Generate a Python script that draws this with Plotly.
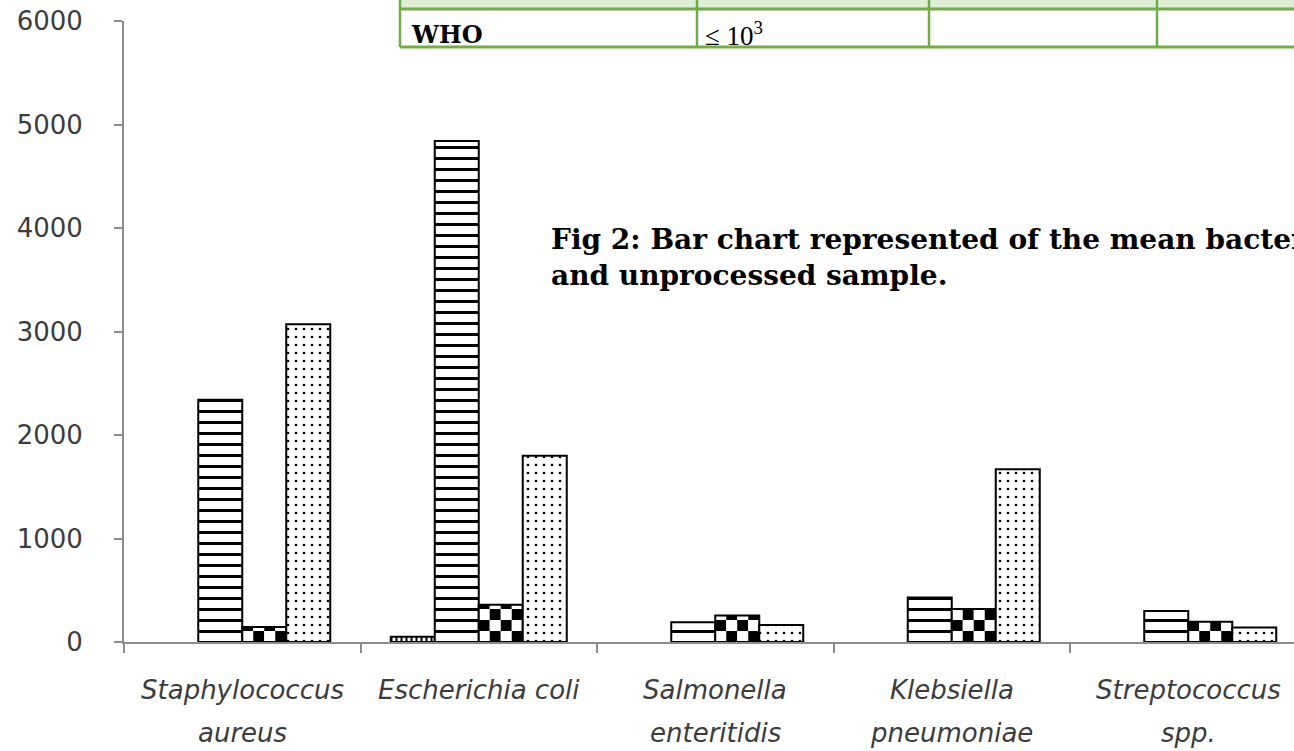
import math
import plotly.graph_objects as go

# ---- data -------------------------------------------------------------
genus = ["Staphylococcus", "Escherichia coli", "Salmonella", "Klebsiella", "Streptococcus"]
epithet = ["aureus", "", "enteritidis", "pneumoniae", "spp."]
y_ticks = [0, 1000, 2000, 3000, 4000, 5000, 6000]

series_1 = [0, 50, 0, 0, 0]
series_2 = [2340, 4840, 190, 430, 300]
series_3 = [145, 360, 255, 320, 195]
series_4 = [3070, 1800, 165, 1670, 140]

# ---- geometry ---------------------------------------------------------
FIG_W, FIG_H = 1294, 751
M_L, M_R, M_T, M_B = 124, 0, 21, 109
PLOT_W = FIG_W - M_L - M_R
PLOT_H = FIG_H - M_T - M_B
CAT_PX = 236.5                      # pixels per category slot
Y_MAX = 6000
X_RANGE = [-0.5, -0.5 + PLOT_W / CAT_PX]
BAR_W = 44 / CAT_PX
OFFSETS = [-2 * BAR_W, -BAR_W, 0.0, BAR_W]
CHECK_COLS = 4                      # checker squares across one bar
CHECK_PX = 11                       # checker square height in pixels
CHECK_H = CHECK_PX * Y_MAX / PLOT_H


def px(x):
    return (x - M_L) / PLOT_W


def py(y):
    return (FIG_H - M_B - y) / PLOT_H


def outline(values):
    # no outline on empty bars
    return dict(color="black", width=[2 if v > 0 else 0 for v in values])


x = list(range(len(genus)))

fig = go.Figure()

# series 1: thin vertical hatch
fig.add_trace(go.Bar(
    x=x, y=series_1, width=BAR_W, offset=OFFSETS[0], name="Series 1",
    marker=dict(color="white", line=outline(series_1),
                pattern=dict(shape="|", size=5, solidity=0.4, fillmode="replace",
                             fgcolor="black", bgcolor="white", fgopacity=1)),
))

# series 2: horizontal stripes
fig.add_trace(go.Bar(
    x=x, y=series_2, width=BAR_W, offset=OFFSETS[1], name="Series 2",
    marker=dict(color="white", line=outline(series_2),
                pattern=dict(shape="-", size=11, solidity=0.27, fillmode="replace",
                             fgcolor="black", bgcolor="white", fgopacity=1)),
))

# series 3: checkerboard, one cell column / row band at a time
n_rows = math.ceil(max(series_3) / CHECK_H)
cell_w = BAR_W / CHECK_COLS
for k in range(n_rows):
    seg = [min(max(v - k * CHECK_H, 0), CHECK_H) for v in series_3]
    for c in range(CHECK_COLS):
        fig.add_trace(go.Bar(
            x=x, y=seg, base=[k * CHECK_H] * len(x), width=cell_w,
            offset=OFFSETS[2] + c * cell_w, name="Series 3", showlegend=False,
            marker=dict(color="black" if (k + c) % 2 else "white", line=dict(width=0)),
        ))
fig.add_trace(go.Bar(
    x=x, y=series_3, width=BAR_W, offset=OFFSETS[2], name="Series 3",
    marker=dict(color="rgba(0,0,0,0)", line=outline(series_3)),
))

# series 4: dotted fill
fig.add_trace(go.Bar(
    x=x, y=series_4, width=BAR_W, offset=OFFSETS[3], name="Series 4",
    marker=dict(color="white", line=outline(series_4),
                pattern=dict(shape=".", size=8, solidity=0.09, fillmode="replace",
                             fgcolor="black", bgcolor="white", fgopacity=1)),
))

AXIS_GREY = "#8c8c8c"
TEXT_GREY = "#3c3c3c"
LABEL_FONT = dict(family="DejaVu Sans", size=26, color=TEXT_GREY)
CAT_FONT = dict(family="DejaVu Sans", size=26, style="italic", color=TEXT_GREY)

fig.update_layout(
    width=FIG_W, height=FIG_H,
    margin=dict(l=M_L, r=M_R, t=M_T, b=M_B, pad=0),
    paper_bgcolor="white", plot_bgcolor="white",
    barmode="overlay", showlegend=False,
    xaxis=dict(range=X_RANGE, tickvals=[i - 0.5 for i in range(len(genus) + 1)],
               showticklabels=False, ticks="outside", ticklen=9, tickwidth=2,
               tickcolor=AXIS_GREY, showline=True, linecolor=AXIS_GREY, linewidth=2,
               showgrid=False, zeroline=False),
    yaxis=dict(range=[0, Y_MAX], tickvals=y_ticks, ticks="outside", ticklen=8,
               tickwidth=2, tickcolor=AXIS_GREY, showline=True, linecolor=AXIS_GREY,
               linewidth=2, showgrid=False, zeroline=False, tickfont=LABEL_FONT,
               ticklabelstandoff=26),
)

# category labels (two lines, italic)
for i, (g, e) in enumerate(zip(genus, epithet)):
    fig.add_annotation(x=i, y=0, xref="x", yref="paper", text=g, showarrow=False,
                       yanchor="middle", yshift=-48, font=CAT_FONT)
    if e:
        fig.add_annotation(x=i, y=0, xref="x", yref="paper", text=e, showarrow=False,
                           yanchor="middle", yshift=-91, font=CAT_FONT)

# table fragment at the top
GREEN = "#70ad47"
fig.add_shape(type="rect", xref="paper", yref="paper", x0=px(400), x1=px(1310),
              y0=py(9), y1=py(-5), fillcolor="#dfeed6", line=dict(width=0), layer="above")
for yy in (9, 47):
    fig.add_shape(type="line", xref="paper", yref="paper", x0=px(400), x1=px(1310),
                  y0=py(yy), y1=py(yy), line=dict(color=GREEN, width=3), layer="above")
for xx in (400, 697, 929, 1157):
    fig.add_shape(type="line", xref="paper", yref="paper", x0=px(xx), x1=px(xx),
                  y0=py(-5), y1=py(47), line=dict(color=GREEN, width=2.5), layer="above")
fig.add_annotation(xref="paper", yref="paper", x=px(409), y=py(35), xanchor="left",
                   yanchor="middle", showarrow=False, text="<b>WHO</b>",
                   font=dict(family="DejaVu Serif", size=24, color="black"))
fig.add_annotation(xref="paper", yref="paper", x=px(703), y=py(34), xanchor="left",
                   yanchor="middle", showarrow=False, text="≤ 10<sup>3</sup>",
                   font=dict(family="Liberation Serif", size=27, color="black"))

# figure caption
fig.add_annotation(xref="paper", yref="paper", x=px(549), y=py(257), xanchor="left",
                   yanchor="middle", align="left", showarrow=False,
                   text="Fig 2: Bar chart represented of the mean bacterial count of processed"
                        "<br>and unprocessed sample.",
                   font=dict(family="DejaVu Serif", size=28, color="black", weight="bold"))

fig.write_html("out.html")
